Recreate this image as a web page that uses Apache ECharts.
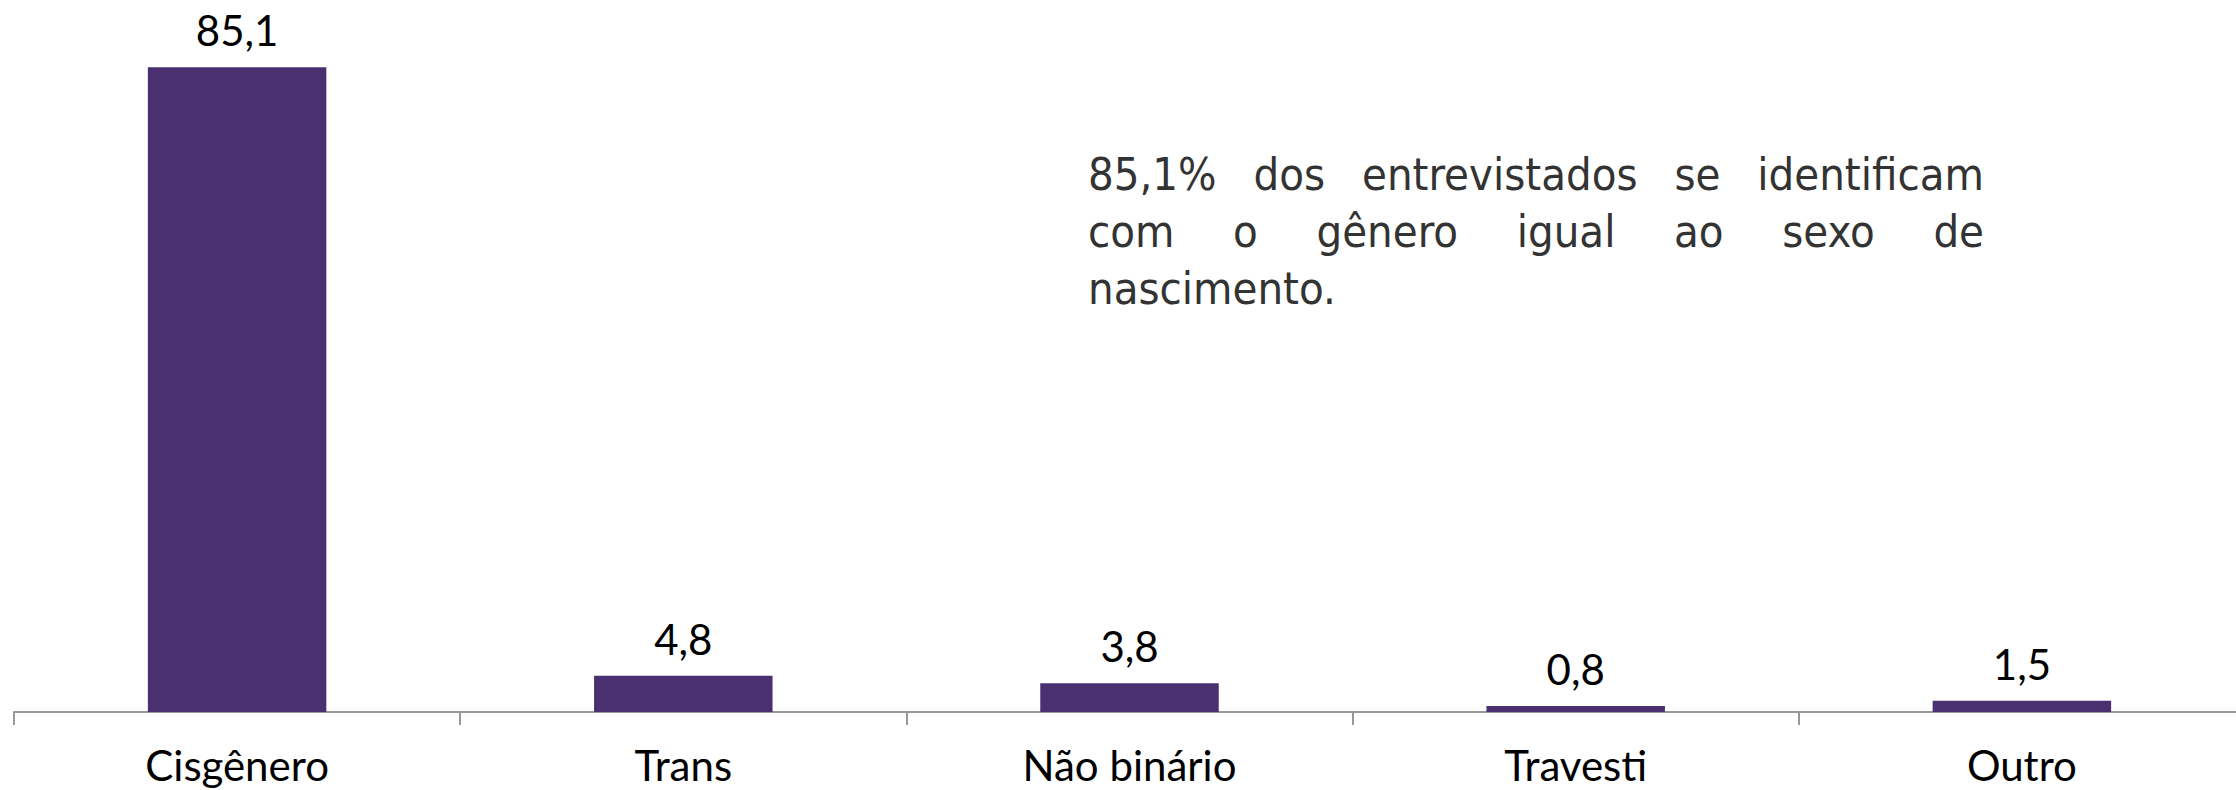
<!DOCTYPE html>
<html lang="pt">
<head>
<meta charset="UTF-8">
<title>Identidade de gênero</title>
<script src="https://cdn.jsdelivr.net/npm/echarts@6/dist/echarts.min.js"></script>
<style>
  html, body { margin: 0; padding: 0; background: #fff; }
  #main { width: 2236px; height: 790px; }
</style>
</head>
<body>
<div id="main"></div>
<script>
// dados
var categorias = ['Cisgênero', 'Trans', 'Não binário', 'Travesti', 'Outro'];
var valores = [85.1, 4.8, 3.8, 0.8, 1.5];
// texto do comentário, uma linha por item (justificado, exceto a última)
var notaLinhas = [
  '85,1% dos entrevistados se identificam',
  'com o gênero igual ao sexo de',
  'nascimento.'
];

var corBarra = '#4a3070';
var fonteLabel = 'Lato, "Noto Sans", sans-serif';
var fonteNota = '"DejaVu Sans Condensed", "Liberation Sans Narrow", sans-serif';
var tamNota = 45;
var corNota = '#333';

var chart = echarts.init(document.getElementById('main'), null, { renderer: 'svg' });

// monta o texto justificado palavra por palavra
var ctx = document.createElement('canvas').getContext('2d');
ctx.font = tamNota + 'px ' + fonteNota;
var notaX = 1088, notaDir = 1984, notaY = 174, notaPasso = 57;
var textos = [];
notaLinhas.forEach(function (linha, i) {
  var y = notaY + i * notaPasso;
  if (i === notaLinhas.length - 1) {
    textos.push({ type: 'text', x: notaX, y: y,
      style: { text: linha, font: tamNota + 'px ' + fonteNota, fill: corNota, textVerticalAlign: 'middle' } });
    return;
  }
  var palavras = linha.split(' ');
  var larg = palavras.map(function (p) { return ctx.measureText(p).width; });
  var total = larg.reduce(function (a, b) { return a + b; }, 0);
  var gap = (notaDir - notaX - total) / (palavras.length - 1);
  var x = notaX;
  palavras.forEach(function (p, k) {
    textos.push({ type: 'text', x: x, y: y,
      style: { text: p, font: tamNota + 'px ' + fonteNota, fill: corNota, textVerticalAlign: 'middle' } });
    x += larg[k] + gap;
  });
});

var option = {
  animation: false,
  grid: { left: 14, right: -9, top: 30, bottom: 78, containLabel: false, outerBoundsMode: 'none' },
  xAxis: {
    type: 'category',
    data: categorias,
    axisLine: { lineStyle: { color: '#999', width: 2 } },
    axisTick: { show: true, length: 13, lineStyle: { color: '#999', width: 2 } },
    axisLabel: { color: '#000', fontSize: 42, fontFamily: fonteLabel, margin: 32 }
  },
  yAxis: {
    type: 'value', min: 0, max: 90,
    show: false, splitLine: { show: false }
  },
  series: [{
    type: 'bar',
    data: valores,
    barWidth: '40%',
    itemStyle: { color: corBarra },
    label: {
      show: true, position: 'top', distance: 16,
      color: '#000', fontSize: 42, fontFamily: fonteLabel,
      formatter: function (p) { return p.value.toFixed(1).replace('.', ','); }
    }
  }],
  graphic: textos
};
chart.setOption(option);
</script>
</body>
</html>
